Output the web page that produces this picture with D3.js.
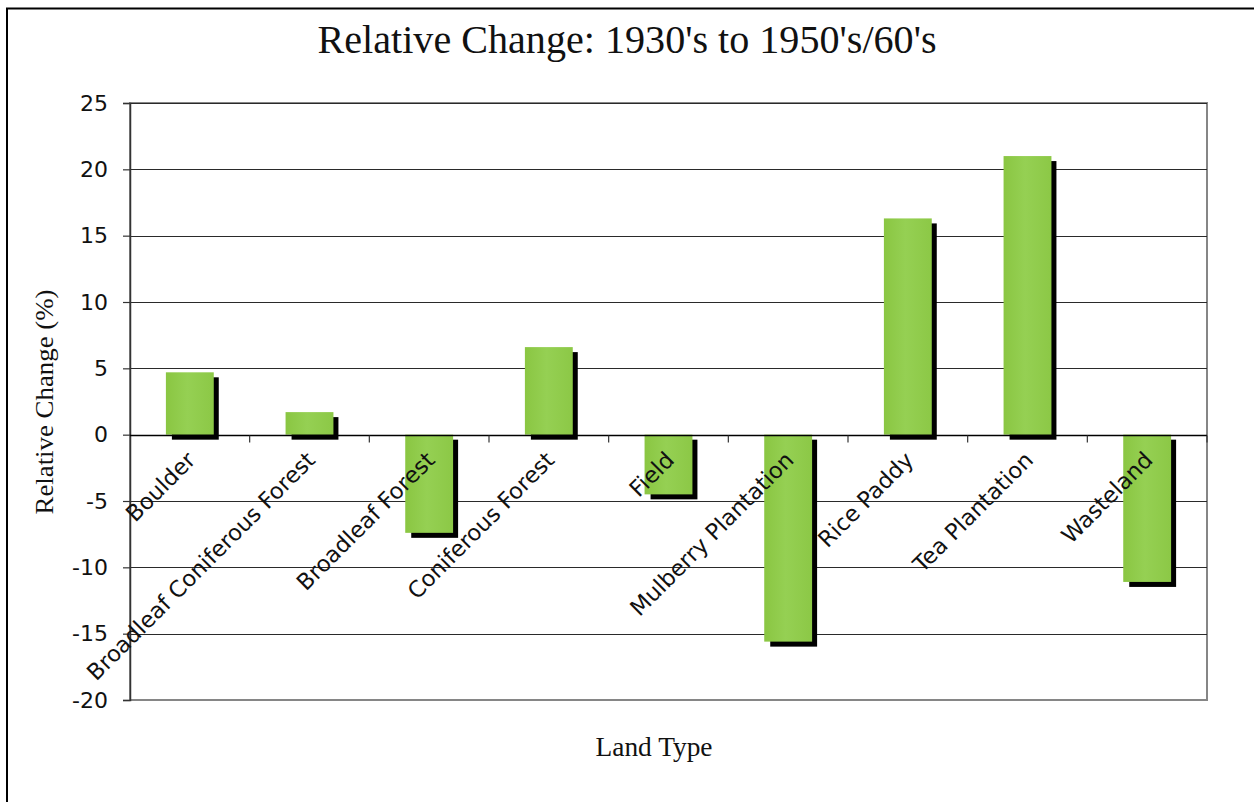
<!DOCTYPE html>
<html>
<head>
<meta charset="utf-8">
<script src="https://cdn.jsdelivr.net/npm/d3@7"></script>
<style>
  html, body { margin: 0; padding: 0; background: #fff; }
  svg { display: block; }
</style>
</head>
<body>
<svg id="chart" width="1254" height="802"></svg>
<script>
// ---- data ----
const categories = ["Boulder", "Broadleaf Coniferous Forest", "Broadleaf Forest", "Coniferous Forest",
  "Field", "Mulberry Plantation", "Rice Paddy", "Tea Plantation", "Wasteland"];
const values = [4.7, 1.7, -7.4, 6.6, -4.5, -15.6, 16.3, 21.0, -11.1];
const yTicks = [-20, -15, -10, -5, 0, 5, 10, 15, 20, 25];
const titleText = "Relative Change: 1930's to 1950's/60's";
const yTitle = "Relative Change (%)";
const xTitle = "Land Type";

// ---- layout ----
const W = 1254, H = 802;
const plot = { left: 130, right: 1207, top: 103, bottom: 700 };

const svg = d3.select("#chart");

// defs: bar gradient
const defs = svg.append("defs");
const grad = defs.append("linearGradient").attr("id", "barGrad")
  .attr("x1", "0%").attr("x2", "100%").attr("y1", "0%").attr("y2", "0%");
grad.append("stop").attr("offset", "0%").attr("stop-color", "#8ac642");
grad.append("stop").attr("offset", "45%").attr("stop-color", "#95d053");
grad.append("stop").attr("offset", "100%").attr("stop-color", "#8cc846");

// outer frame (table cell lines)
svg.append("line").attr("x1", 6).attr("x2", W).attr("y1", 8.5).attr("y2", 8.5)
  .attr("stroke", "#000").attr("stroke-width", 2);
svg.append("line").attr("x1", 7).attr("x2", 7).attr("y1", 8).attr("y2", H)
  .attr("stroke", "#000").attr("stroke-width", 2);

const x = d3.scaleBand().domain(categories)
  .range([plot.left, plot.right]).paddingInner(0.6).paddingOuter(0.3);
const y = d3.scaleLinear().domain([-20, 25]).range([plot.bottom, plot.top]);

// plot area border
svg.append("rect").attr("x", plot.left).attr("y", plot.top)
  .attr("width", plot.right - plot.left).attr("height", plot.bottom - plot.top)
  .attr("fill", "#fff").attr("stroke", "#868686").attr("stroke-width", 2);

// gridlines
svg.append("g").selectAll("line").data(yTicks.filter(t => t !== -20)).join("line")
  .attr("x1", plot.left).attr("x2", plot.right)
  .attr("y1", d => Math.round(y(d)) + 0.5).attr("y2", d => Math.round(y(d)) + 0.5)
  .attr("stroke", "#2a2a2a").attr("stroke-width", 1.2);

// y axis
const yAxis = d3.axisLeft(y).tickValues(yTicks).tickSize(7).tickPadding(15)
  .tickFormat(d => String(d));
const gy = svg.append("g").attr("transform", `translate(${plot.left},0)`).call(yAxis);
gy.select(".domain").attr("stroke", "#333").attr("stroke-width", 1.5);
gy.selectAll(".tick line").attr("stroke", "#333").attr("stroke-width", 1.2);
gy.selectAll(".tick text").attr("font-family", "'DejaVu Sans', Verdana, sans-serif")
  .attr("font-size", 22).attr("fill", "#111");

// bars: shadow then bar
const bars = svg.append("g");
bars.selectAll("rect.shadow").data(values).join("rect").attr("class", "shadow")
  .attr("x", (d, i) => x(categories[i]) + 6)
  .attr("y", d => Math.min(y(d), y(0)) + 5)
  .attr("width", x.bandwidth() - 1)
  .attr("height", d => Math.abs(y(d) - y(0)))
  .attr("fill", "#000");
bars.selectAll("rect.bar").data(values).join("rect").attr("class", "bar")
  .attr("x", (d, i) => x(categories[i]))
  .attr("y", d => Math.min(y(d), y(0)))
  .attr("width", x.bandwidth())
  .attr("height", d => Math.abs(y(d) - y(0)))
  .attr("fill", "url(#barGrad)");

// zero axis line with ticks at band boundaries
const y0 = Math.round(y(0)) + 0.5;
svg.append("line").attr("x1", plot.left).attr("x2", plot.right)
  .attr("y1", y0).attr("y2", y0).attr("stroke", "#000").attr("stroke-width", 1.5);
const step = x.step();
const boundaries = d3.range(1, categories.length + 1).map(k => plot.left + k * step);
svg.append("g").selectAll("line").data(boundaries).join("line")
  .attr("x1", d => d).attr("x2", d => d).attr("y1", y0).attr("y2", y0 + 7)
  .attr("stroke", "#333").attr("stroke-width", 1.2);

// category labels
svg.append("g").selectAll("text").data(categories).join("text")
  .attr("transform", d => `translate(${x(d) + x.bandwidth() / 2 + 7},${y0 + 26}) rotate(-45)`)
  .attr("text-anchor", "end")
  .attr("font-family", "'DejaVu Sans', Verdana, sans-serif")
  .attr("font-size", 22.5).attr("fill", "#111")
  .text(d => d);

// title
svg.append("text").attr("x", 627).attr("y", 53).attr("text-anchor", "middle")
  .attr("font-family", "'Liberation Serif', 'DejaVu Serif', serif")
  .attr("font-size", 39).attr("fill", "#111")
  .attr("textLength", 619).attr("lengthAdjust", "spacingAndGlyphs")
  .text(titleText);

// y title
svg.append("text").attr("transform", `translate(53,402) rotate(-90)`)
  .attr("text-anchor", "middle")
  .attr("font-family", "'Liberation Serif', 'DejaVu Serif', serif")
  .attr("font-size", 25).attr("fill", "#111")
  .attr("textLength", 225).attr("lengthAdjust", "spacingAndGlyphs")
  .text(yTitle);

// x title
svg.append("text").attr("x", 654).attr("y", 756).attr("text-anchor", "middle")
  .attr("font-family", "'Liberation Serif', 'DejaVu Serif', serif")
  .attr("font-size", 27).attr("fill", "#111")
  .attr("textLength", 117).attr("lengthAdjust", "spacingAndGlyphs")
  .text(xTitle);
</script>
</body>
</html>
